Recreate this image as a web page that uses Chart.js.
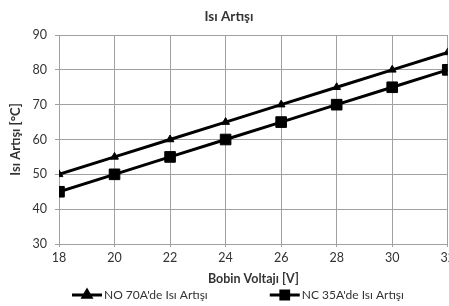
<!DOCTYPE html>
<html>
<head>
<meta charset="utf-8">
<script src="https://cdn.jsdelivr.net/npm/chart.js@4/dist/chart.umd.min.js"></script>
<style>
  html, body { margin: 0; padding: 0; background: #fff; }
  #wrap { width: 449px; height: 306px; overflow: hidden; position: relative; }
  canvas { display: block; }
</style>
</head>
<body>
<div id="wrap"><canvas id="c" width="458" height="306"></canvas></div>
<script>
// ---- data ----
const voltages = [18, 20, 22, 24, 26, 28, 30, 32];
const noSeries = [50, 55, 60, 65, 70, 75, 80, 85];
const ncSeries = [45, 50, 55, 60, 65, 70, 75, 80];
const seriesNames = ["NO 70A'de Isı Artışı", "NC 35A'de Isı Artışı"];
const yTicks = [30, 40, 50, 60, 70, 80, 90];
const xTicks = [18, 20, 22, 24, 26, 28, 30, 32];
const chartTitle = 'Isı Artışı';
const xTitle = 'Bobin Voltajı [V]';
const yTitle = 'Isı Artışı [°C]';

const FONT = 'Lato, "Open Sans", sans-serif';
const TXT = '#333333';
const GRID = '#a0a0a0';

const toPts = (vals) => voltages.map((v, i) => ({x: v, y: vals[i]}));

const legendPlugin = {
  id: 'lineLegend',
  afterDraw(chart) {
    const ctx = chart.ctx;
    const y = chart.height - 11;
    let x = 72;
    const lineLen = 30, textGap = 2, itemGap = 62;
    ctx.save();
    ctx.font = '12px ' + FONT;
    ctx.textBaseline = 'middle';
    ctx.textAlign = 'left';
    chart.data.datasets.forEach((ds) => {
      ctx.strokeStyle = ds.borderColor;
      ctx.lineWidth = ds.borderWidth;
      ctx.beginPath();
      ctx.moveTo(x, y);
      ctx.lineTo(x + lineLen, y);
      ctx.stroke();
      ctx.fillStyle = '#000';
      Chart.helpers.drawPoint(ctx, {
        pointStyle: ds.pointStyle,
        radius: ds.legendRadius,
        borderWidth: 1
      }, x + lineLen / 2, y);
      ctx.fillStyle = TXT;
      ctx.fillText(ds.label, x + lineLen + textGap, y + 0.5);
      x += lineLen + textGap + ctx.measureText(ds.label).width + itemGap;
    });
    ctx.restore();
  }
};

new Chart(document.getElementById('c'), {
  type: 'line',
  data: {
    datasets: [
      {
        label: seriesNames[0],
        data: toPts(noSeries),
        borderColor: '#000',
        backgroundColor: '#000',
        borderWidth: 3,
        pointStyle: 'triangle',
        pointRadius: 4.5,
        pointBackgroundColor: '#000',
        pointBorderColor: '#000',
        pointBorderWidth: 1,
        legendRadius: 4.5,
        tension: 0
      },
      {
        label: seriesNames[1],
        data: toPts(ncSeries),
        borderColor: '#000',
        backgroundColor: '#000',
        borderWidth: 3,
        pointStyle: 'rect',
        pointRadius: 7.5,
        pointBackgroundColor: '#000',
        pointBorderColor: '#000',
        pointBorderWidth: 1,
        legendRadius: 5.5,
        tension: 0
      }
    ]
  },
  options: {
    responsive: false,
    animation: false,
    devicePixelRatio: 1,
    layout: { padding: { left: 0, right: 0, top: 0, bottom: 20 } },
    plugins: {
      legend: { display: false },
      tooltip: { enabled: false },
      title: {
        display: true,
        text: chartTitle,
        color: TXT,
        font: { family: FONT, size: 13.5, weight: 'bold' },
        padding: { top: 8.9, bottom: 9.9 }
      }
    },
    scales: {
      x: {
        type: 'linear',
        min: xTicks[0],
        max: xTicks[xTicks.length - 1],
        afterBuildTicks: (s) => { s.ticks = xTicks.map(v => ({value: v})); },
        grid: { color: GRID, lineWidth: 1, tickLength: 3, drawTicks: true },
        border: { color: GRID, width: 1 },
        ticks: { color: TXT, font: { family: FONT, size: 12.5 }, padding: 3, maxRotation: 0, autoSkip: false },
        title: { display: true, text: xTitle, color: TXT, font: { family: FONT, size: 12.5, weight: 'bold' }, padding: { top: 0, bottom: 0 } },
        afterFit: (s) => { s.height = 42; }
      },
      y: {
        min: yTicks[0],
        max: yTicks[yTicks.length - 1],
        afterBuildTicks: (s) => { s.ticks = yTicks.map(v => ({value: v})); },
        grid: { color: GRID, lineWidth: 1, tickLength: 4, drawTicks: true },
        border: { color: GRID, width: 1 },
        ticks: { color: TXT, font: { family: FONT, size: 12.5 }, padding: 8 },
        title: { display: true, text: yTitle, color: TXT, font: { family: FONT, size: 13, weight: 'bold' }, padding: { top: 8, bottom: 0 } },
        afterFit: (s) => { s.width = 59; }
      }
    }
  },
  plugins: [legendPlugin]
});
</script>
</body>
</html>
